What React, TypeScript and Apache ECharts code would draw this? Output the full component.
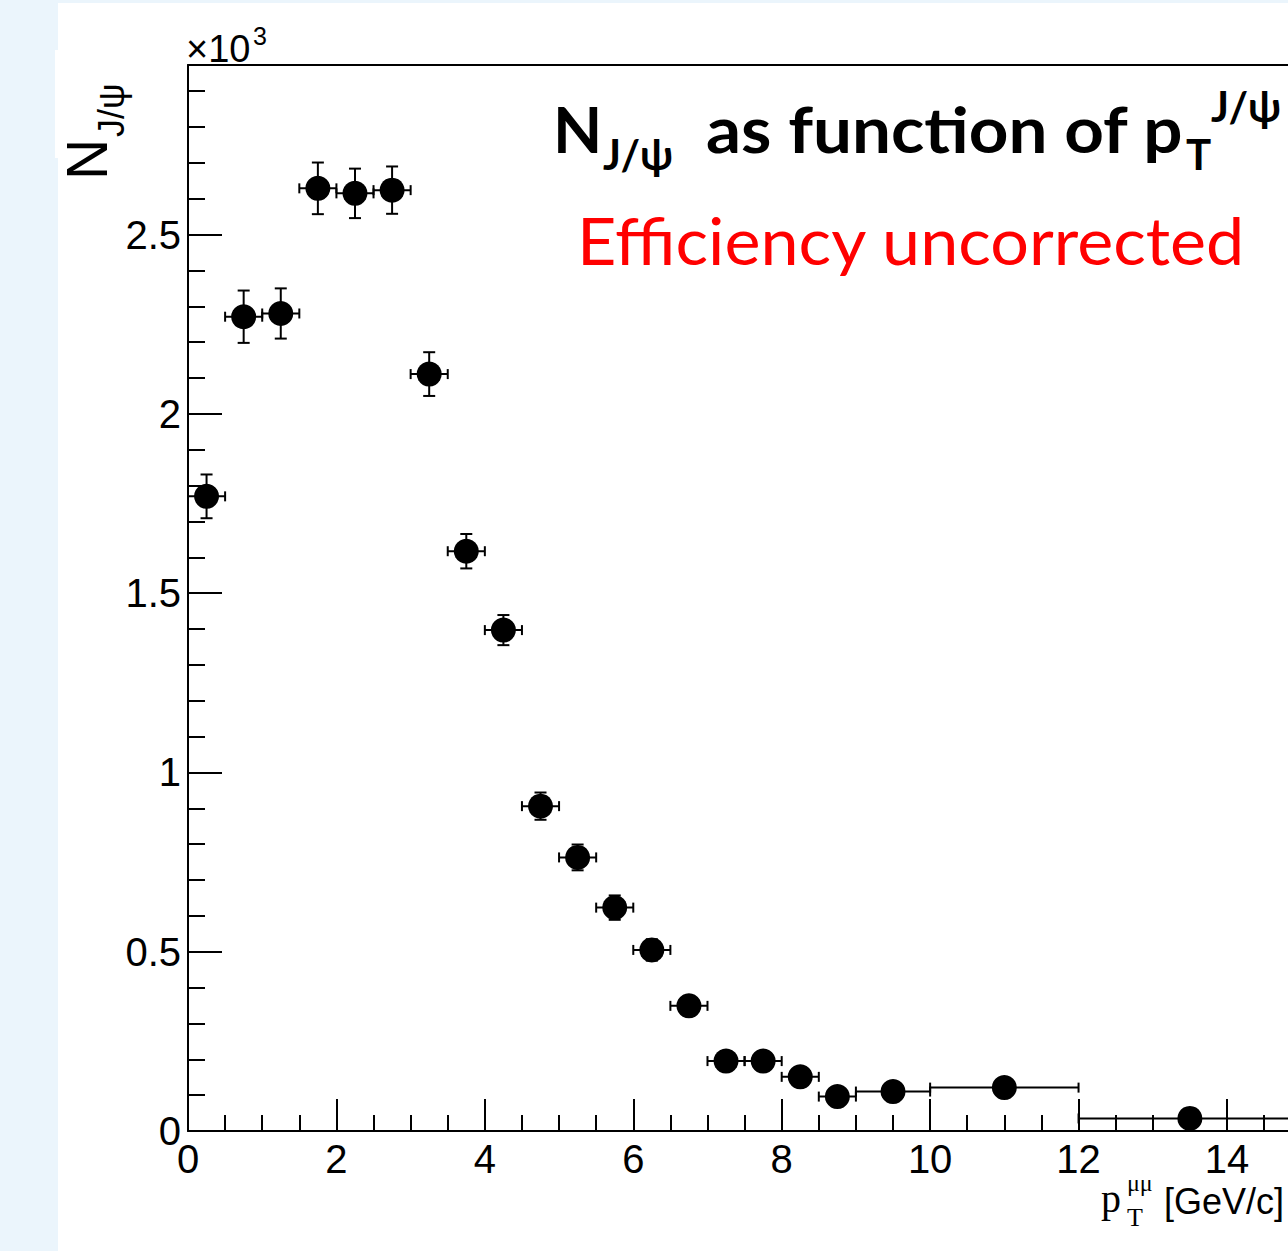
import React, { useEffect, useRef } from "react";
import * as echarts from "echarts";

// pT bin centres (GeV/c) and half bin widths
const ptCenters = [0.25, 0.75, 1.25, 1.75, 2.25, 2.75, 3.25, 3.75, 4.25, 4.75, 5.25, 5.75, 6.25, 6.75, 7.25, 7.75, 8.25, 8.75, 9.5, 11, 13.5];
const ptHalfWidths = [0.25, 0.25, 0.25, 0.25, 0.25, 0.25, 0.25, 0.25, 0.25, 0.25, 0.25, 0.25, 0.25, 0.25, 0.25, 0.25, 0.25, 0.25, 0.5, 1, 1.5];
// J/psi yields and statistical errors
const yields = [1770, 2271, 2280, 2629, 2615, 2624, 2111, 1617, 1397, 906, 763, 623, 505, 349, 195, 195, 151, 96, 110, 121, 35];
const yieldErrors = [61, 73, 70, 72, 69, 66, 61, 48, 42, 38, 36, 34, 30, 28, 25, 25, 24, 22, 22, 22, 15];

const yMajorTicks = [0, 500, 1000, 1500, 2000, 2500];
const yMinorTicks = [100, 200, 300, 400, 600, 700, 800, 900, 1100, 1200, 1300, 1400, 1600, 1700, 1800, 1900, 2100, 2200, 2300, 2400, 2600, 2700, 2800, 2900];
const yMax = 2973;
const xMin = 0;
const xMax = 16;
const xInterval = 2;

const SANS = "Liberation Sans, Arial, Helvetica, sans-serif";
const SERIF = "Liberation Serif, Times New Roman, serif";
const LATO = "Lato, Open Sans, sans-serif";

function txt(text: string, x: number, baseline: number, size: number, family: string, c: number, opts: any = {}) {
  return {
    type: "text",
    x,
    y: baseline - c * size,
    silent: true,
    z: 100,
    scaleX: opts.scaleX || 1,
    style: {
      text,
      fontSize: size,
      fontFamily: family,
      fontWeight: opts.weight || "normal",
      fill: opts.color || "#000",
      align: "left",
      verticalAlign: "middle",
    },
  };
}

function rtxt(text: string, x: number, y: number, size: number, family: string) {
  return {
    type: "text",
    x,
    y,
    rotation: Math.PI / 2,
    silent: true,
    z: 100,
    style: {
      text,
      fontSize: size,
      fontFamily: family,
      fill: "#000",
      align: "left",
      verticalAlign: "middle",
    },
  };
}

export default function App() {
  const ref = useRef<HTMLDivElement>(null);
  useEffect(() => {
    if (!ref.current) return;
    const chart = echarts.init(ref.current, null, { renderer: "svg" });
    const data = ptCenters.map((x, i) => [x, yields[i], ptHalfWidths[i], yieldErrors[i]]);
    const lineStyle = { stroke: "#000", lineWidth: 2 };
    const axisColor = "#000";
    const option: any = {
      animation: false,
      backgroundColor: "#ffffff",
      grid: { left: 188, top: 65, width: 1187.4, height: 1066, containLabel: false, outerBoundsMode: "none" },
      xAxis: [
        {
          type: "value",
          min: xMin,
          max: xMax,
          interval: xInterval,
          position: "bottom",
          axisLine: { show: true, onZero: false, lineStyle: { color: axisColor, width: 2 } },
          axisTick: { show: true, inside: true, length: 32, lineStyle: { color: axisColor, width: 2 } },
          minorTick: { show: true, splitNumber: 4, length: 16, lineStyle: { color: axisColor, width: 2 } },
          axisLabel: { show: true, showMaxLabel: false, fontSize: 40, fontFamily: SANS, color: "#000", margin: 8 },
          splitLine: { show: false },
        },
        {
          type: "value",
          min: xMin,
          max: xMax,
          position: "top",
          axisLine: { show: true, onZero: false, lineStyle: { color: axisColor, width: 2 } },
          axisTick: { show: false },
          axisLabel: { show: false },
          splitLine: { show: false },
        },
      ],
      yAxis: [
        {
          type: "value",
          min: 0,
          max: yMax,
          position: "left",
          axisLine: { show: true, onZero: false, lineStyle: { color: axisColor, width: 2 } },
          axisTick: { show: true, inside: true, length: 34, customValues: yMajorTicks, lineStyle: { color: axisColor, width: 2 } },
          axisLabel: {
            show: true,
            customValues: yMajorTicks,
            fontSize: 40,
            fontFamily: SANS,
            color: "#000",
            margin: 7,
            formatter: (v: number) => String(v / 1000),
          },
          splitLine: { show: false },
        },
        {
          type: "value",
          min: 0,
          max: yMax,
          position: "left",
          axisLine: { show: false },
          axisTick: { show: true, inside: true, length: 17, customValues: yMinorTicks, lineStyle: { color: axisColor, width: 2 } },
          axisLabel: { show: false },
          splitLine: { show: false },
        },
      ],
      series: [
        {
          type: "custom",
          xAxisIndex: 0,
          yAxisIndex: 0,
          z: 3,
          clip: false,
          data,
          renderItem: (params: any, api: any) => {
            const x = api.value(0);
            const y = api.value(1);
            const ex = api.value(2);
            const ey = api.value(3);
            const c = api.coord([x, y]);
            const l = api.coord([x - ex, y]);
            const r = api.coord([x + ex, y]);
            const t = api.coord([x, y + ey]);
            const b = api.coord([x, y - ey]);
            return {
              type: "group",
              children: [
                { type: "line", shape: { x1: l[0], y1: c[1], x2: r[0], y2: c[1] }, style: lineStyle },
                { type: "line", shape: { x1: l[0], y1: c[1] - 5, x2: l[0], y2: c[1] + 5 }, style: lineStyle },
                { type: "line", shape: { x1: r[0], y1: c[1] - 5, x2: r[0], y2: c[1] + 5 }, style: lineStyle },
                { type: "line", shape: { x1: c[0], y1: t[1], x2: c[0], y2: b[1] }, style: lineStyle },
                { type: "line", shape: { x1: c[0] - 6, y1: t[1], x2: c[0] + 6, y2: t[1] }, style: lineStyle },
                { type: "line", shape: { x1: c[0] - 6, y1: b[1], x2: c[0] + 6, y2: b[1] }, style: lineStyle },
              ],
            };
          },
        },
        {
          type: "scatter",
          xAxisIndex: 0,
          yAxisIndex: 0,
          z: 5,
          symbol: "circle",
          symbolSize: 25,
          itemStyle: { color: "#000", opacity: 1 },
          data: data.map((d) => [d[0], d[1]]),
        },
      ],
      graphic: [
        { type: "rect", silent: true, z: 0, shape: { x: 0, y: 0, width: 58, height: 1251 }, style: { fill: "#ebf5fc" } },
        { type: "rect", silent: true, z: 0, shape: { x: 0, y: 0, width: 1288, height: 3 }, style: { fill: "#ebf5fc" } },
        { type: "rect", silent: true, z: 1, shape: { x: 55, y: 50, width: 3, height: 108 }, style: { fill: "#ffffff" } },
        // x10^3
        txt("\u00d710", 186, 62, 38, SANS, 0.3465),
        txt("3", 253, 45, 25, SANS, 0.3465),
        // Y title (rotated)
        rtxt("N", 87, 180, 57, SANS),
        rtxt("J/\u03c8", 111, 137, 36, SANS),
        // X title
        txt("p", 1101, 1212, 40, SERIF, 0.3375),
        txt("\u03bc\u03bc", 1127, 1191, 24, SERIF, 0.3375),
        txt("T", 1127, 1226, 26, SERIF, 0.3375),
        txt("[GeV/c]", 1164, 1214, 36, SANS, 0.3465),
        // Title
        txt("N", 553, 153, 64, LATO, 0.387, { weight: "bold" }),
        txt("J/\u03c8", 603, 170, 42, LATO, 0.387, { weight: "bold" }),
        txt("as function of p", 706, 153, 64, LATO, 0.387, { weight: "bold", scaleX: 1.08 }),
        txt("T", 1186, 170, 42, LATO, 0.387, { weight: "bold" }),
        txt("J/\u03c8", 1211, 122, 42, LATO, 0.387, { weight: "bold" }),
        txt("Efficiency uncorrected", 577, 265, 65, LATO, 0.387, { color: "#ff0000", scaleX: 1.05 }),
      ],
    };
    chart.setOption(option);
    return () => chart.dispose();
  }, []);
  return <div ref={ref} style={{ position: "absolute", left: 0, top: 0, width: 1288, height: 1251 }} />;
}
